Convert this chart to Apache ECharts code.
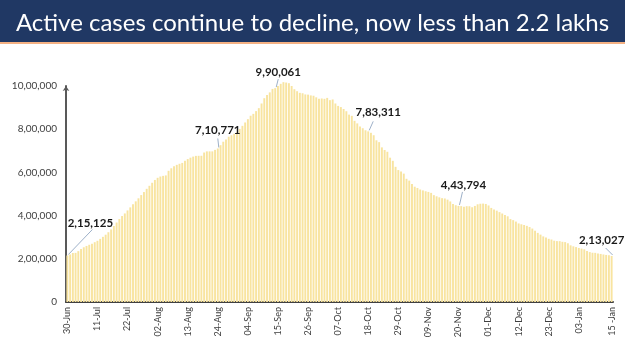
<!DOCTYPE html>
<html>
<head>
  <meta charset="UTF-8">
  <title>Active cases</title>
  <style>
    body { margin: 0; background: #fff; }
    #main { width: 625px; height: 351px; }
  </style>
</head>
<body>
  <div id="main"></div>
  <script src="https://cdn.jsdelivr.net/npm/echarts@6/dist/echarts.min.js"></script>
  <script>
    const titleText = 'Active cases continue to decline, now less than 2.2 lakhs';

    const monthNames = ['Jun', 'Jul', 'Aug', 'Sep', 'Oct', 'Nov', 'Dec', 'Jan'];
    const monthDays = [1, 31, 31, 30, 31, 30, 31, 15]; // only 30-Jun from June, up to 15-Jan

    // active cases per day, 30-Jun to 15-Jan
    const activeJun = [215125];
    const activeJul = [220114, 226947, 227439, 235433, 244814, 253287, 259557, 264944, 269789, 276882,
      283407, 292258, 301609, 311565, 323000, 336000, 352000, 368000, 384000, 398000,
      410000, 424000, 438000, 452000, 466000, 480000, 495000, 509000, 524000, 538000, 552000];
    const activeAug = [565103, 575000, 581000, 584000, 586000, 607384, 619088, 628747, 634945, 639929,
      643948, 653622, 661595, 668220, 673166, 676514, 676900, 677000, 692028, 697330,
      697330, 697330, 704348, 710771, 725991, 742023, 752424, 765302, 772000, 779000, 785996];
    const activeSep = [801282, 815538, 831124, 846395, 862320, 871000, 883697, 897394, 919018, 943480,
      958316, 970492, 986598, 990061, 1000000, 1010000, 1017754, 1016000, 1013000, 1000000,
      985000, 975861, 968377, 966382, 960969, 960000, 956402, 955000, 947576, 940441];
    const activeOct = [942217, 940705, 944996, 934427, 937625, 919023, 907883, 902425, 893592, 883185,
      867496, 861853, 838729, 826876, 812390, 804528, 795087, 790000, 783311, 772055,
      748538, 740090, 715812, 703719, 695509, 668154, 653717, 625857, 610803, 603687, 594386];
    const activeNov = [570458, 561908, 546000, 533787, 527962, 520773, 516632, 512665, 509673, 505265,
      494657, 489294, 484547, 480719, 479216, 474000, 465478, 453401, 448000, 444746,
      443794, 440962, 443486, 443303, 438667, 444746, 452344, 454940, 455555, 453956];
    const activeDec = [446952, 435603, 428644, 422943, 416082, 409689, 403248, 396729, 383866, 378909,
      372293, 363749, 359819, 356546, 352586, 347000, 340000, 330000, 320000, 312000,
      303639, 299000, 292518, 289240, 283849, 281919, 281667, 278690, 277301, 272000, 262272];
    const activeJan = [257656, 254254, 250183, 247220, 243953, 236000, 231000, 228083, 227546, 224190,
      222526, 220000, 218000, 216558, 213027];

    const yTicks = [0, 200000, 400000, 600000, 800000, 1000000];

    // annotated days (index into the series) and their callout text
    const annotated = [0, 55, 76, 110, 143, 199];
    const annotatedText = ['2,15,125', '7,10,771', '9,90,061', '7,83,311', '4,43,794', '2,13,027'];
    // callout layout, pixels relative to the bar top: text x,y then leader line end x,y
    const callouts = [
      [23, -32, 25, -26],
      [0, -18, 0, -10],
      [3, -16, 3, -9],
      [10, -19, 5, -10],
      [5, -21, 4, -14],
      [-10, -16, -6, -8]
    ];

    const values = [].concat(activeJun, activeJul, activeAug, activeSep, activeOct, activeNov, activeDec, activeJan);

    // categories: "30-Jun", "01-Jul", ...
    const categories = [];
    monthNames.forEach((m, mi) => {
      const start = mi === 0 ? 30 : 1;
      for (let d = 0; d < monthDays[mi]; d++) {
        const day = start + d;
        categories.push((day < 10 ? '0' : '') + day + '-' + m);
      }
    });
    categories[categories.length - 1] = '15 -Jan';
    const lastIdx = categories.length - 1;

    function indian(n) {
      const s = String(Math.round(n));
      if (s.length <= 3) return s;
      const last3 = s.slice(-3);
      const rest = s.slice(0, -3).replace(/\B(?=(\d{2})+(?!\d))/g, ',');
      return rest + ',' + last3;
    }

    const chart = echarts.init(document.getElementById('main'));
    chart.setOption({
      animation: false,
      graphic: [
        { type: 'rect', left: 0, top: 0, shape: { width: 625, height: 42 }, style: { fill: '#203864' } },
        { type: 'rect', left: 0, top: 42, shape: { width: 625, height: 2 }, style: { fill: '#f4b183' } }
      ],
      title: {
        text: titleText,
        left: 'center',
        top: 6,
        textStyle: { color: '#fff', fontSize: 24, fontWeight: 'normal', fontFamily: 'Lato' }
      },
      grid: { left: 66, right: 12, top: 86, bottom: 49 },
      xAxis: {
        type: 'category',
        data: categories,
        axisLine: { lineStyle: { color: '#404040', width: 2 } },
        axisTick: { show: false },
        axisLabel: {
          rotate: 90,
          fontSize: 9,
          color: '#404040',
          fontFamily: 'Lato',
          margin: 5,
          interval: (i) => (i % 11 === 0 && i < lastIdx - 5) || i === lastIdx
        }
      },
      yAxis: {
        type: 'value',
        min: 0,
        max: 1000000,
        interval: 200000,
        splitLine: { show: false },
        axisLine: {
          show: true,
          symbol: ['none', 'arrow'],
          symbolSize: [5, 5],
          lineStyle: { color: '#595959', width: 2 }
        },
        axisLabel: {
          fontSize: 10,
          color: '#404040',
          fontFamily: 'Lato',
          margin: 9,
          customValues: yTicks,
          formatter: (v) => indian(v)
        }
      },
      series: [
        {
          type: 'bar',
          data: values,
          clip: false,
          barCategoryGap: '30%',
          itemStyle: { color: '#f8e4a0' }
        },
        {
          type: 'custom',
          clip: false,
          z: 5,
          data: annotated.map((i, k) => [i, values[i], k]),
          encode: { x: 0, y: 1 },
          renderItem: (params, api) => {
            const p = api.coord([api.value(0), api.value(1)]);
            const c = callouts[api.value(2)];
            return {
              type: 'group',
              children: [
                {
                  type: 'line',
                  shape: { x1: p[0] + 1, y1: p[1] - 1, x2: p[0] + c[2], y2: p[1] + c[3] },
                  style: { stroke: '#9db0c8', lineWidth: 1 }
                },
                {
                  type: 'text',
                  style: {
                    text: annotatedText[api.value(2)],
                    x: p[0] + c[0],
                    y: p[1] + c[1],
                    align: 'center',
                    verticalAlign: 'middle',
                    fill: '#1a1a1a',
                    font: 'bold 11.5px Lato'
                  }
                }
              ]
            };
          }
        }
      ]
    });
  </script>
</body>
</html>
